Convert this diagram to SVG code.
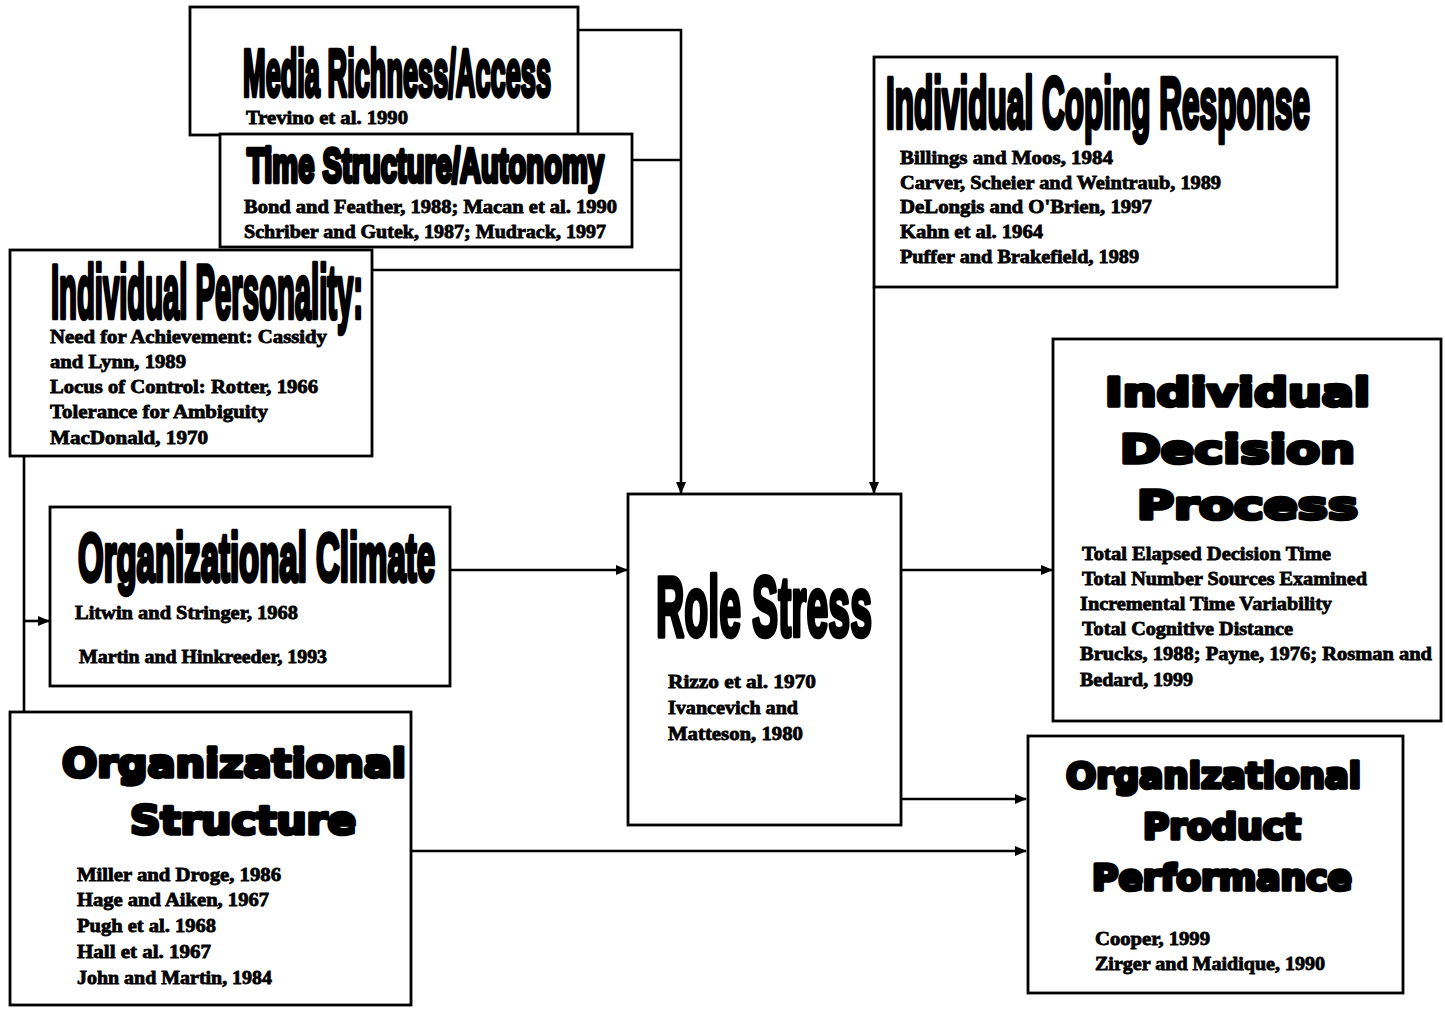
<svg xmlns="http://www.w3.org/2000/svg" width="1445" height="1013" viewBox="0 0 1445 1013">
  <defs>
    <style>
      .box { fill: #fff; stroke: #000; stroke-width: 2.8; }
      .wire { fill: none; stroke: #000; stroke-width: 2.6; }
      .tc { font-family: "Liberation Sans", Arial, sans-serif; font-weight: bold; fill: #000; stroke: #000; stroke-width: 4.6; stroke-linejoin: round; }
      .tw { font-family: "DejaVu Sans", "Liberation Sans", sans-serif; font-weight: bold; fill: #000; stroke: #000; stroke-width: 3.6; stroke-linejoin: round; }
      .cite { font-family: "Liberation Serif", "Times New Roman", serif; font-weight: bold; font-size: 19px; fill: #000; stroke: #000; stroke-width: 0.8; }
    </style>
    <marker id="arrow" viewBox="0 0 12 10" refX="11" refY="5" markerWidth="12" markerHeight="10" markerUnits="userSpaceOnUse" orient="auto">
      <path d="M0,0 L12,5 L0,10 Z" fill="#000"/>
    </marker>
  </defs>

  <!-- connectors -->
  <g id="connectors">
    <path class="wire" d="M578 30 H681 V493" marker-end="url(#arrow)"/>
    <path class="wire" d="M632 160 H681"/>
    <path class="wire" d="M372 270 H681"/>
    <path class="wire" d="M874 287 V493" marker-end="url(#arrow)"/>
    <path class="wire" d="M24 456 V712"/>
    <path class="wire" d="M24 621 H49" marker-end="url(#arrow)"/>
    <path class="wire" d="M450 570 H627" marker-end="url(#arrow)"/>
    <path class="wire" d="M902 570 H1052" marker-end="url(#arrow)"/>
    <path class="wire" d="M902 799 H1026" marker-end="url(#arrow)"/>
    <path class="wire" d="M411 851 H1026" marker-end="url(#arrow)"/>
  </g>

  <g id="media-richness">
    <rect class="box" x="190" y="7" width="388" height="128"/>
    <text class="tc" x="243" y="96" font-size="66" textLength="308" lengthAdjust="spacingAndGlyphs">Media Richness/Access</text>
    <text class="cite" x="246" y="124" textLength="162" lengthAdjust="spacingAndGlyphs">Trevino et al. 1990</text>
  </g>

  <g id="time-structure">
    <rect class="box" x="220" y="134" width="412" height="113"/>
    <text class="tc" x="247" y="182" font-size="49" textLength="357" lengthAdjust="spacingAndGlyphs">Time Structure/Autonomy</text>
    <text class="cite" x="244" y="213" textLength="373" lengthAdjust="spacingAndGlyphs">Bond and Feather, 1988; Macan et al. 1990</text>
    <text class="cite" x="244" y="238" textLength="362" lengthAdjust="spacingAndGlyphs">Schriber and Gutek, 1987; Mudrack, 1997</text>
  </g>

  <g id="individual-personality">
    <rect class="box" x="10" y="250" width="362" height="206"/>
    <text class="tc" x="51" y="318" font-size="76" textLength="312" lengthAdjust="spacingAndGlyphs">Individual Personality:</text>
    <text class="cite" x="50" y="343" textLength="277" lengthAdjust="spacingAndGlyphs">Need for Achievement: Cassidy</text>
    <text class="cite" x="50" y="368" textLength="136" lengthAdjust="spacingAndGlyphs">and Lynn, 1989</text>
    <text class="cite" x="50" y="393" textLength="268" lengthAdjust="spacingAndGlyphs">Locus of Control: Rotter, 1966</text>
    <text class="cite" x="50" y="418" textLength="218" lengthAdjust="spacingAndGlyphs">Tolerance for Ambiguity</text>
    <text class="cite" x="50" y="444" textLength="158" lengthAdjust="spacingAndGlyphs">MacDonald, 1970</text>
  </g>

  <g id="organizational-climate">
    <rect class="box" x="50" y="507" width="400" height="179"/>
    <text class="tc" x="78" y="581" font-size="69" textLength="357" lengthAdjust="spacingAndGlyphs">Organizational Climate</text>
    <text class="cite" x="75" y="619" textLength="223" lengthAdjust="spacingAndGlyphs">Litwin and Stringer, 1968</text>
    <text class="cite" x="79" y="663" textLength="248" lengthAdjust="spacingAndGlyphs">Martin and Hinkreeder, 1993</text>
  </g>

  <g id="organizational-structure">
    <rect class="box" x="10" y="712" width="401" height="293"/>
    <text class="tw" x="62" y="777" font-size="39" textLength="344" lengthAdjust="spacingAndGlyphs">Organizational</text>
    <text class="tw" x="130" y="834" font-size="39" textLength="226" lengthAdjust="spacingAndGlyphs">Structure</text>
    <text class="cite" x="77" y="881" textLength="204" lengthAdjust="spacingAndGlyphs">Miller and Droge, 1986</text>
    <text class="cite" x="77" y="906" textLength="192" lengthAdjust="spacingAndGlyphs">Hage and Aiken, 1967</text>
    <text class="cite" x="77" y="932" textLength="139" lengthAdjust="spacingAndGlyphs">Pugh et al. 1968</text>
    <text class="cite" x="77" y="958" textLength="134" lengthAdjust="spacingAndGlyphs">Hall et al. 1967</text>
    <text class="cite" x="77" y="984" textLength="195" lengthAdjust="spacingAndGlyphs">John and Martin, 1984</text>
  </g>

  <g id="role-stress">
    <rect class="box" x="628" y="494" width="273" height="331"/>
    <text class="tc" x="656" y="636" font-size="86" textLength="216" lengthAdjust="spacingAndGlyphs">Role Stress</text>
    <text class="cite" x="668" y="688" textLength="148" lengthAdjust="spacingAndGlyphs">Rizzo et al. 1970</text>
    <text class="cite" x="668" y="714" textLength="130" lengthAdjust="spacingAndGlyphs">Ivancevich and</text>
    <text class="cite" x="668" y="740" textLength="135" lengthAdjust="spacingAndGlyphs">Matteson, 1980</text>
  </g>

  <g id="individual-coping">
    <rect class="box" x="874" y="57" width="463" height="230"/>
    <text class="tc" x="886" y="128" font-size="72" textLength="424" lengthAdjust="spacingAndGlyphs">Individual Coping Response</text>
    <text class="cite" x="900" y="164" textLength="213" lengthAdjust="spacingAndGlyphs">Billings and Moos, 1984</text>
    <text class="cite" x="900" y="189" textLength="321" lengthAdjust="spacingAndGlyphs">Carver, Scheier and Weintraub, 1989</text>
    <text class="cite" x="900" y="213" textLength="252" lengthAdjust="spacingAndGlyphs">DeLongis and O'Brien, 1997</text>
    <text class="cite" x="900" y="238" textLength="143" lengthAdjust="spacingAndGlyphs">Kahn et al. 1964</text>
    <text class="cite" x="900" y="263" textLength="239" lengthAdjust="spacingAndGlyphs">Puffer and Brakefield, 1989</text>
  </g>

  <g id="individual-decision">
    <rect class="box" x="1053" y="339" width="388" height="382"/>
    <text class="tw" x="1105" y="406" font-size="39" textLength="265" lengthAdjust="spacingAndGlyphs">Individual</text>
    <text class="tw" x="1120" y="463" font-size="39" textLength="235" lengthAdjust="spacingAndGlyphs">Decision</text>
    <text class="tw" x="1137" y="519" font-size="39" textLength="221" lengthAdjust="spacingAndGlyphs">Process</text>
    <text class="cite" x="1082" y="560" textLength="249" lengthAdjust="spacingAndGlyphs">Total Elapsed Decision Time</text>
    <text class="cite" x="1082" y="585" textLength="285" lengthAdjust="spacingAndGlyphs">Total Number Sources Examined</text>
    <text class="cite" x="1080" y="610" textLength="252" lengthAdjust="spacingAndGlyphs">Incremental Time Variability</text>
    <text class="cite" x="1082" y="635" textLength="211" lengthAdjust="spacingAndGlyphs">Total Cognitive Distance</text>
    <text class="cite" x="1080" y="660" textLength="352" lengthAdjust="spacingAndGlyphs">Brucks, 1988; Payne, 1976; Rosman and</text>
    <text class="cite" x="1080" y="686" textLength="113" lengthAdjust="spacingAndGlyphs">Bedard, 1999</text>
  </g>

  <g id="organizational-product">
    <rect class="box" x="1028" y="736" width="375" height="257"/>
    <text class="tw" x="1066" y="788" font-size="35" textLength="295" lengthAdjust="spacingAndGlyphs">Organizational</text>
    <text class="tw" x="1143" y="839" font-size="35" textLength="158" lengthAdjust="spacingAndGlyphs">Product</text>
    <text class="tw" x="1092" y="890" font-size="35" textLength="260" lengthAdjust="spacingAndGlyphs">Performance</text>
    <text class="cite" x="1095" y="945" textLength="115" lengthAdjust="spacingAndGlyphs">Cooper, 1999</text>
    <text class="cite" x="1095" y="970" textLength="230" lengthAdjust="spacingAndGlyphs">Zirger and Maidique, 1990</text>
  </g>
</svg>
